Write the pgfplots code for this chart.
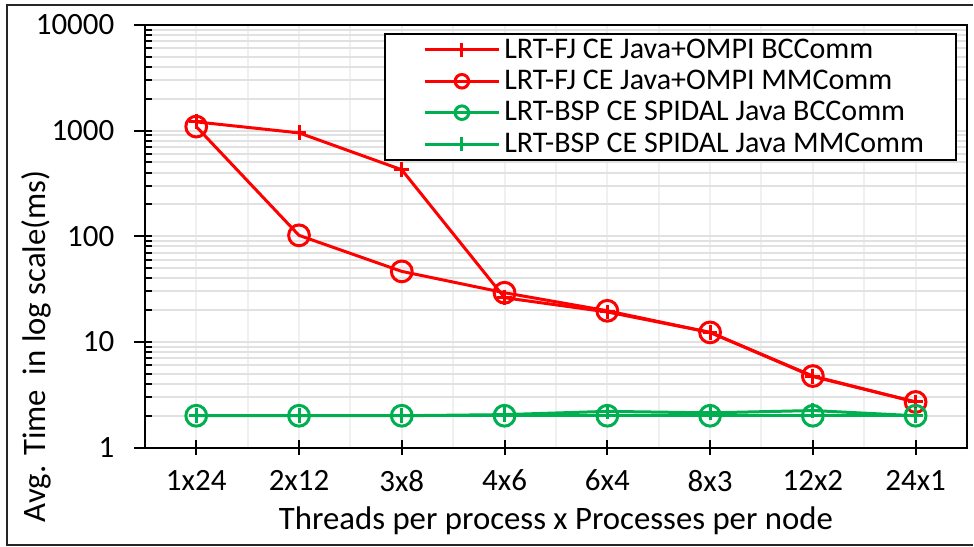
\documentclass[border=0pt]{standalone}
\usepackage{fontspec}
\setmainfont{Carlito}
\usepackage{pgfplots}
\pgfplotsset{compat=1.18}
\definecolor{xlred}{RGB}{255,0,0}
\definecolor{xlgreen}{RGB}{0,176,80}
\definecolor{hgrid}{RGB}{225,225,225}
\definecolor{vgrid}{RGB}{240,240,240}
\begin{document}
\begin{tikzpicture}[font=\fontsize{15.5}{18}\selectfont]
\begin{axis}[name=ax,
  scale only axis, width=411.5pt, height=211.5pt,
  xmin=-0.5, xmax=7.5,
  ymode=log, ymin=1, ymax=10000,
  xtick={0,...,7},
  xticklabels={1x24,2x12,3x8,4x6,6x4,8x3,12x2,24x1},
  minor xtick={-0.5,0.5,...,7.5},
  ytick={1,10,100,1000,10000},
  log ticks with fixed point,
  /pgf/number format/1000 sep={},
  /pgf/number format/assume math mode=true,
  xtick pos=bottom, ytick pos=left,
  grid=both,
  major x grid style={vgrid, line width=1pt},
  minor x grid style={vgrid, line width=1pt},
  major y grid style={hgrid, line width=1pt},
  minor y grid style={hgrid, line width=1pt},
  axis line style={line width=1pt},
  tick style={black, line width=1pt},
  tick align=center, major tick length=7.5pt, minor tick length=3.5pt,
  every minor x tick/.append style={draw=none},
  every minor y tick/.append style={xshift=2pt},
  every major y tick/.append style={xshift=-1.5pt},
  yticklabel style={xshift=-8pt},
  xticklabel style={yshift=-4pt},
  legend style={at={(0.988,0.981)}, anchor=north east, draw=black,
    line width=1pt, fill=white, inner xsep=14pt, inner ysep=0.3pt,
    row sep=0.5pt, font=\fontsize{15}{18}\selectfont},
  legend cell align=left,
  legend image code/.code={\path (-5pt,0pt);
    \draw[mark repeat=2, mark phase=2, mark size=3.4pt]
    plot coordinates {(0pt,0pt) (18.5pt,0pt) (37pt,0pt)};},
]
\addplot[xlred, line width=1.5pt, mark=+, mark size=3.7pt] coordinates {
  (0,1210) (1,952) (2,426) (3,26.2) (4,19.2) (5,12.3) (6,4.7) (7,2.7)};
\addlegendentry{LRT-FJ CE Java+OMPI BCComm}
\addplot[xlred, line width=1.5pt, mark=o, mark size=5.2pt] coordinates {
  (0,1092) (1,102) (2,46.5) (3,29.2) (4,19.7) (5,12.3) (6,4.75) (7,2.7)};
\addlegendentry{LRT-FJ CE Java+OMPI MMComm}
\addplot[xlgreen, line width=1.5pt, mark=o, mark size=5.2pt] coordinates {
  (0,2) (1,2) (2,2) (3,2) (4,2) (5,2) (6,2) (7,2)};
\addlegendentry{LRT-BSP CE SPIDAL Java BCComm}
\addplot[xlgreen, line width=1.5pt, mark=+, mark size=3.7pt] coordinates {
  (0,2) (1,2) (2,2) (3,2.05) (4,2.2) (5,2.13) (6,2.24) (7,2)};
\addlegendentry{LRT-BSP CE SPIDAL Java MMComm}
\end{axis}
\node[rotate=90, anchor=west, inner sep=0pt, font=\fontsize{16.4}{19}\selectfont]
  at (-54.5pt,-37.5pt) {Avg. Time\ \ in log scale(ms)};
\node[font=\fontsize{16.4}{19}\selectfont] at ([yshift=-36.5pt]ax.south) {Threads per process x Processes per node};
\draw[line width=1pt, black!85] (414.5pt,221.5pt) -- (-69pt,221.5pt) -- (-69pt,-49pt) -- (414.5pt,-49pt);
\useasboundingbox (-72.5pt,-49.5pt) rectangle (414.5pt,224pt);
\end{tikzpicture}
\end{document}
